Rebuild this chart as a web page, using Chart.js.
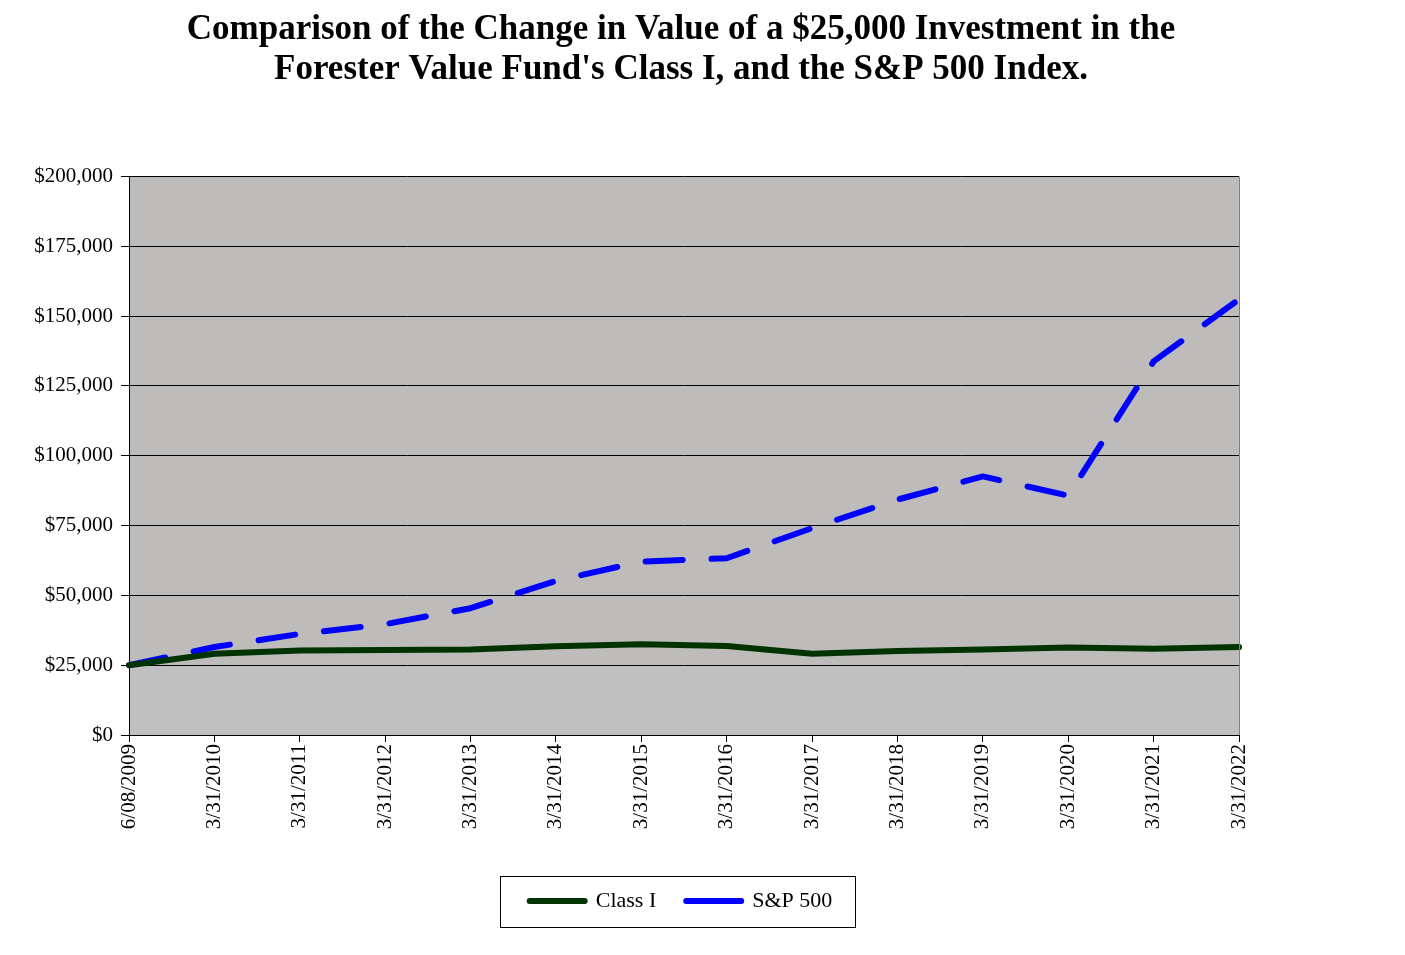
<!DOCTYPE html>
<html>
<head>
<meta charset="utf-8">
<script src="https://cdn.jsdelivr.net/npm/chart.js@4"></script>
<style>
  html, body { margin:0; padding:0; background:#fff; }
  #wrap { width:1405px; height:955px; position:relative; }
</style>
</head>
<body>
<div id="wrap"><canvas id="growthChart" width="1405" height="955"></canvas></div>
<script>
// values
const periods = ['6/08/2009','3/31/2010','3/31/2011','3/31/2012','3/31/2013','3/31/2014','3/31/2015',
  '3/31/2016','3/31/2017','3/31/2018','3/31/2019','3/31/2020','3/31/2021','3/31/2022'];
const classI = [25000, 29100, 30300, 30450, 30600, 31800, 32500, 31900, 29100, 30100, 30600, 31300, 30900, 31500];
const sp500  = [25000, 31500, 36200, 39700, 45400, 55200, 62100, 63300, 74100, 84300, 92600, 85700, 133800, 156000];
const yTicks = [0, 25000, 50000, 75000, 100000, 125000, 150000, 175000, 200000];

const serif = '"Liberation Serif", "Times New Roman", serif';

// plot background: textured grey above $25,000, flat grey below, grey right edge
const plotBg = {
  id: 'plotBg',
  beforeDraw(chart){
    const {ctx, chartArea:a, scales:{y}} = chart;
    const y25 = y.getPixelForValue(25000);
    ctx.save();
    ctx.fillStyle = '#bdbcba';
    ctx.fillRect(a.left, a.top, a.right - a.left, y25 - a.top);
    ctx.fillStyle = '#c0c0c0';
    ctx.fillRect(a.left, y25, a.right - a.left, a.bottom - y25);
    ctx.restore();
  },
  afterDraw(chart){
    const {ctx, chartArea:a} = chart;
    ctx.save();
    ctx.strokeStyle = '#808080'; ctx.lineWidth = 1;
    ctx.beginPath(); ctx.moveTo(a.right + 0.5, a.top); ctx.lineTo(a.right + 0.5, a.bottom); ctx.stroke();
    // box round the legend
    const lg = chart.legend;
    if(lg && lg.legendHitBoxes && lg.legendHitBoxes.length){
      const hb = lg.legendHitBoxes;
      const l = Math.min(...hb.map(b => b.left)) - 30;
      const r = Math.max(...hb.map(b => b.left + b.width)) + 22;
      const cy = hb[0].top + hb[0].height / 2;
      ctx.strokeStyle = '#000';
      ctx.strokeRect(Math.round(l) + 0.5, Math.round(cy - 25) + 0.5, Math.round(r - l), 51);
    }
    ctx.restore();
  }
};

new Chart(document.getElementById('growthChart'), {
  type: 'line',
  data: {
    labels: periods,
    datasets: [
      { label:'Class I', data: classI, borderColor:'#013301', backgroundColor:'#013301',
        borderWidth:6, pointRadius:0, tension:0, borderCapStyle:'round', borderJoinStyle:'round' },
      { label:'S&P 500', data: sp500, borderColor:'#0000ff', backgroundColor:'#0000ff',
        borderWidth:6, pointRadius:0, tension:0, borderDash:[37, 29], borderCapStyle:'round', borderJoinStyle:'round' }
    ]
  },
  options: {
    responsive:false, animation:false, devicePixelRatio:1,
    layout:{ padding:{ left:0, right:43, top:0, bottom:33 } },
    plugins:{
      title:{
        display:true,
        text:['Comparison of the Change in Value of a $25,000 Investment in the',
              "Forester Value Fund's Class I, and the S&P 500 Index."],
        color:'#000',
        font:{ family:serif, size:35, weight:'bold', lineHeight:1.15 },
        padding:{ top:10, bottom:86 }
      },
      legend:{
        display:true, position:'bottom',
        labels:{
          color:'#000', font:{ family:serif, size:22 },
          usePointStyle:true, pointStyle:'line', pointStyleWidth:55, padding:30,
          generateLabels(chart){
            return Chart.defaults.plugins.legend.labels.generateLabels(chart)
              .map(it => Object.assign(it, { lineDash:[], lineCap:'round' }));
          }
        }
      },
      tooltip:{ enabled:false }
    },
    scales:{
      x:{
        type:'category', offset:false,
        grid:{ drawOnChartArea:false, drawTicks:true, tickLength:7, color:'#000' },
        border:{ color:'#000' },
        ticks:{ color:'#000', font:{ family:serif, size:21 }, minRotation:90, maxRotation:90, autoSkip:false, padding:2 },
        afterFit(s){ s.height = 125; }
      },
      y:{
        min:0, max:200000,
        afterBuildTicks(s){ s.ticks = yTicks.map(v => ({ value:v })); },
        grid:{ color:'#000', tickLength:8, lineWidth:1 },
        border:{ color:'#000' },
        ticks:{ color:'#000', font:{ family:serif, size:21 }, padding:8,
          callback:v => '$' + v.toLocaleString('en-US') },
        afterFit(s){ s.width = 129; }
      },
      // empty right axis that only keeps the white margin at the right of the plot
      yRight:{
        position:'right', display:true, min:0, max:200000,
        grid:{ display:false }, border:{ display:false }, ticks:{ display:false },
        afterFit(s){ s.width = 123; }
      }
    }
  },
  plugins:[plotBg]
});
</script>
</body>
</html>
